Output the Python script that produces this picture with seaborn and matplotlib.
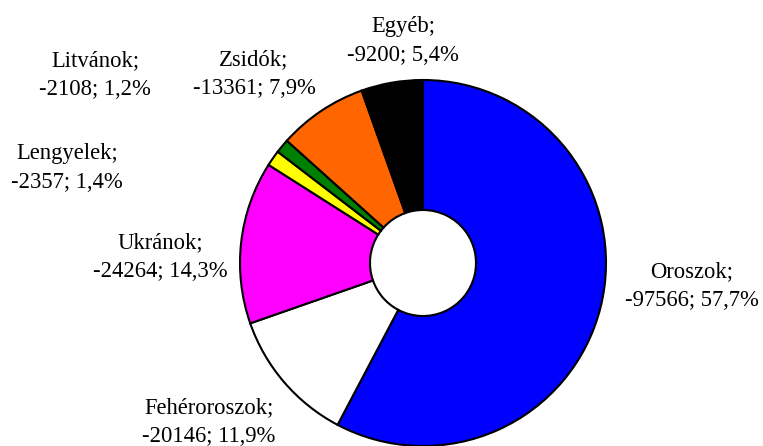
import numpy as np
import matplotlib
matplotlib.use("Agg")
import matplotlib.pyplot as plt
import seaborn as sns

# data
groups = ['Oroszok', 'Fehéroroszok', 'Ukránok', 'Lengyelek', 'Litvánok', 'Zsidók', 'Egyéb']
changes = [-97566, -20146, -24264, -2357, -2108, -13361, -9200]
shares = ['57,7%', '11,9%', '14,3%', '1,4%', '1,2%', '7,9%', '5,4%']
colors = ['#0000FF', '#FFFFFF', '#FF00FF', '#FFFF00', '#008000', '#FF6600', '#000000']

# label block centres in pixels (x, y from top)
label_pos = [(692, 286), (209, 422), (160, 257), (67, 168), (95, 75), (254, 74), (403, 41)]

sns.set_theme(style='white')
plt.rcParams['font.family'] = ['Liberation Serif', 'DejaVu Serif']

W, H = 763, 446
fig = plt.figure(figsize=(W / 100, H / 100), dpi=100)
ax = fig.add_axes([0, 0, 1, 1])

sizes = np.abs(changes)
R = 183
ax.pie(sizes, colors=colors, startangle=90, counterclock=False,
       center=(423, H - 263), radius=R, frame=True,
       wedgeprops=dict(width=R - 53, edgecolor='black', linewidth=1.5))
ax.set_xlim(0, W)
ax.set_ylim(0, H)
ax.set_aspect('equal')
ax.axis('off')

for name, val, pct, (px, py) in zip(groups, changes, shares, label_pos):
    ax.text(px, H - py, f"{name};\n{val}; {pct}", ha='center', va='center',
            fontsize=16.3, linespacing=1.5, color='black')

fig.savefig('out.png', dpi=100)
